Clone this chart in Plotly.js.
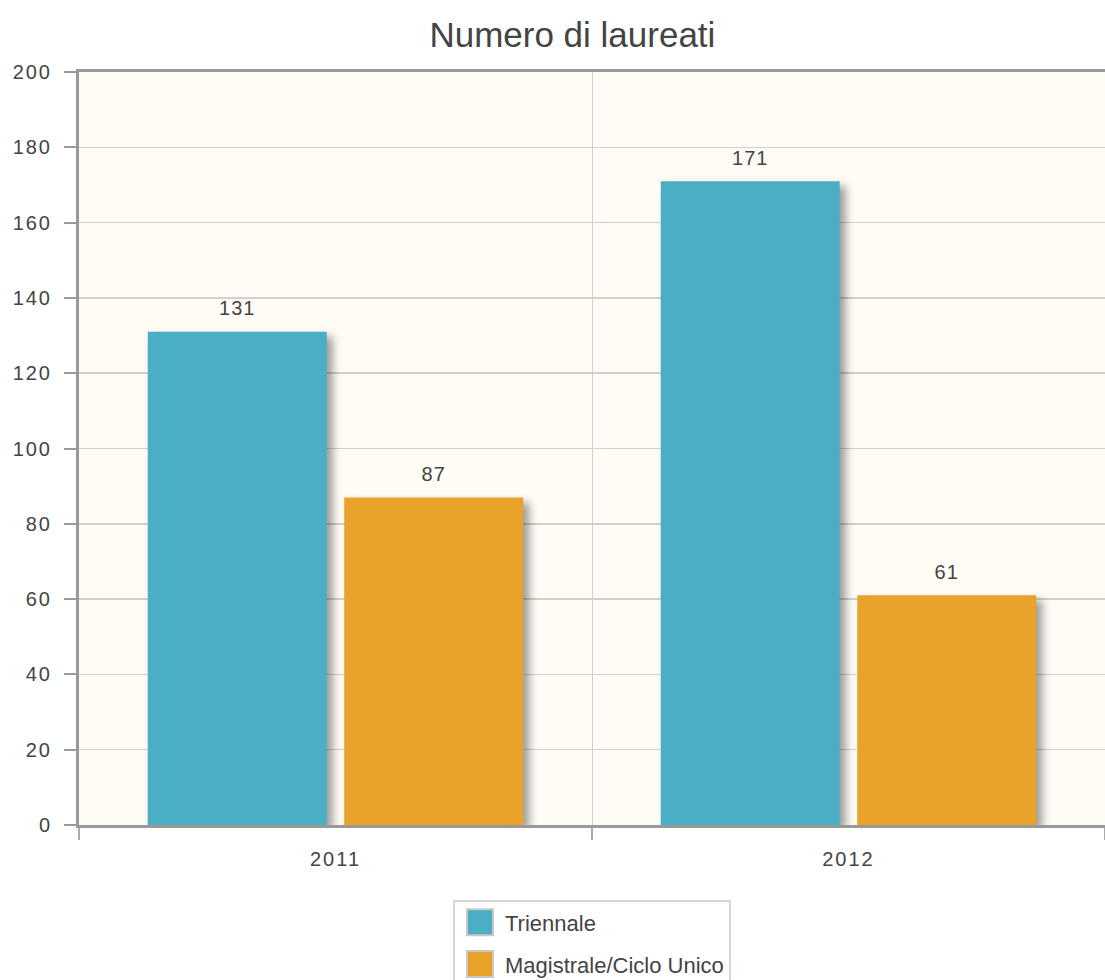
<!DOCTYPE html>
<html><head><meta charset="utf-8">
<script src="https://cdn.plot.ly/plotly-3.0.1.min.js"></script>
<style>
body{margin:0;background:#fff;}
.barlayer .point path{filter:drop-shadow(6px 5px 4px rgba(0,0,0,0.38));}
.xtick text, .ytick text{letter-spacing:2px;}
.textpoint text{letter-spacing:1px;}
</style>
</head><body>
<div id="chart" style="width:1105px;height:980px;"></div>
<script>
const categories = ["2011", "2012"];
const triennale = [131, 171];
const magistrale = [87, 61];
const seriesNames = ["Triennale", "Magistrale/Ciclo Unico"];
const seriesColors = ["#4aafc5", "#e9a22a"];
const titleText = "Numero di laureati";

const font = "Liberation Sans, Arial, sans-serif";
const seriesValues = [triennale, magistrale];
const traces = [];
seriesValues.forEach((vals, i) => {
  traces.push({type:"bar", name:seriesNames[i], x:categories, y:vals,
    offsetgroup:String(i), alignmentgroup:"a", legendgroup:"g"+i,
    marker:{color:seriesColors[i]}, hoverinfo:"x+y"});
});
seriesValues.forEach((vals, i) => {
  traces.push({type:"scatter", mode:"markers+text", x:categories, y:vals, text:vals.map(String),
    offsetgroup:String(i), alignmentgroup:"a", legendgroup:"g"+i,
    textposition:"top center", cliponaxis:false, showlegend:false,
    marker:{size:17, opacity:0, color:seriesColors[i]}, textfont:{size:20,color:"#444",family:font}, hoverinfo:"skip"});
});
const layout = {
  width:1105, height:980,
  margin:{l:79, r:0, t:72, b:155, autoexpand:false},
  paper_bgcolor:"#ffffff", plot_bgcolor:"#fefcf4",
  font:{family:font, color:"#444", size:20},
  title:{text:titleText, x:0.518, xanchor:"center", y:0.965, yanchor:"middle", font:{size:35, color:"#444", family:font}},
  barmode:"group", bargap:0.234, bargroupgap:0.089,
  scattermode:"group", scattergap:0.234,
  showlegend:true,
  legend:{orientation:"v", x:0.5, xanchor:"center", y:-0.099, yanchor:"top",
          bordercolor:"#d4d4d4", borderwidth:2, bgcolor:"#fff", font:{size:22, color:"#444", family:font},
          traceorder:"grouped", tracegroupgap:10, itemwidth:40},
  xaxis:{type:"category", tickson:"boundaries", showgrid:true, gridcolor:"#d0d0d0", gridwidth:1,
         ticks:"outside", ticklen:12, tickcolor:"#aaa", tickwidth:2, ticklabelstandoff:14,
         showline:true, linecolor:"#999", linewidth:3, mirror:true,
         tickfont:{size:20, color:"#444"}, fixedrange:true},
  yaxis:{range:[0,200], dtick:20, showgrid:true, gridcolor:"#d0d0d0", gridwidth:1.5,
         ticks:"outside", ticklen:12, tickcolor:"#999", tickwidth:2, ticklabelstandoff:8,
         showline:true, linecolor:"#999", linewidth:3, zeroline:false,
         tickfont:{size:20, color:"#444"}, fixedrange:true}
};
Plotly.newPlot("chart", traces, layout, {displayModeBar:false, staticPlot:true}).then(gd => {
  gd.querySelectorAll(".legend .legendpoints path").forEach(p => {
    p.setAttribute("d", "M13,13H-13V-13H13Z");
    p.style.stroke = "#c8c8c8";
    p.style.strokeWidth = "2px";
  });
});
</script>
</body></html>
